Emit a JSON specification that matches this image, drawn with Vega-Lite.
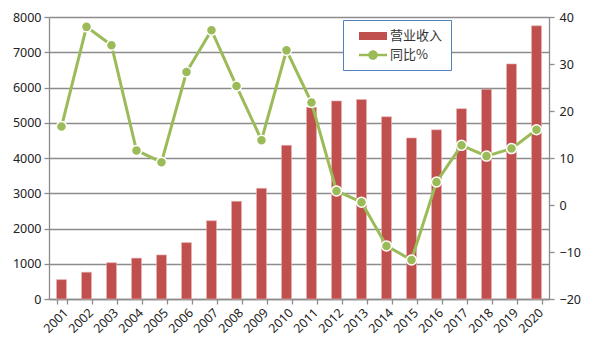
{
  "$schema": "https://vega.github.io/schema/vega-lite/v6.json",
  "width": 500,
  "height": 282,
  "autosize": {"type": "none"},
  "padding": {"left": 49, "top": 17, "right": 51, "bottom": 55},
  "background": "white",
  "config": {
    "view": {"stroke": null},
    "font": "Noto Sans",
    "axis": {"labelFont": "Noto Sans", "labelFontSize": 12.5, "labelColor": "#222", "domainColor": "#8c8c8c", "tickColor": "#8c8c8c", "gridColor": "#8c8c8c", "gridWidth": 1.3, "domainWidth": 1.3, "tickWidth": 1.3, "tickSize": 5}
  },
  "data": {"values": [
    {"year": "2001", "rev": 550, "yoy": 16.7},
    {"year": "2002", "rev": 760, "yoy": 37.9},
    {"year": "2003", "rev": 1030, "yoy": 34.0},
    {"year": "2004", "rev": 1160, "yoy": 11.6},
    {"year": "2005", "rev": 1250, "yoy": 9.1},
    {"year": "2006", "rev": 1600, "yoy": 28.3},
    {"year": "2007", "rev": 2220, "yoy": 37.2},
    {"year": "2008", "rev": 2770, "yoy": 25.3},
    {"year": "2009", "rev": 3140, "yoy": 13.8},
    {"year": "2010", "rev": 4360, "yoy": 32.9},
    {"year": "2011", "rev": 5440, "yoy": 21.8},
    {"year": "2012", "rev": 5620, "yoy": 3.0},
    {"year": "2013", "rev": 5660, "yoy": 0.6},
    {"year": "2014", "rev": 5170, "yoy": -8.7},
    {"year": "2015", "rev": 4570, "yoy": -11.7},
    {"year": "2016", "rev": 4800, "yoy": 4.9},
    {"year": "2017", "rev": 5400, "yoy": 12.7},
    {"year": "2018", "rev": 5950, "yoy": 10.4},
    {"year": "2019", "rev": 6670, "yoy": 12.0},
    {"year": "2020", "rev": 7750, "yoy": 16.0}
  ]},
  "encoding": {
    "x": {"field": "year", "type": "nominal", "scale": {"paddingInner": 0.6, "paddingOuter": 0.3},
      "axis": {"title": null, "labelAngle": -45, "tickBand": "extent", "labelPadding": 2}}
  },
  "layer": [
    {
      "mark": {"type": "bar", "stroke": "#e9b3b2", "strokeWidth": 0.6},
      "encoding": {
        "y": {"field": "rev", "type": "quantitative", "scale": {"domain": [0, 8000], "nice": false},
          "axis": {"title": null, "format": "d", "values": [0,1000,2000,3000,4000,5000,6000,7000,8000], "labelPadding": 3}},
        "color": {"datum": "营业收入", "type": "nominal",
          "scale": {"domain": ["营业收入", "同比%"], "range": ["#C0504D", "#9BBB59"]},
          "legend": {
            "orient": "none", "legendX": 294, "legendY": 3, "title": null,
            "strokeColor": "#4F81BD", "fillColor": "white",
            "padding": 8, "rowPadding": 4, "symbolSize": 256, "labelOffset": 23,
            "labelFont": "Noto Sans CJK SC", "labelFontSize": 13, "labelColor": "#333",
            "symbolType": {"expr": "datum.value === '营业收入' ? 'M0,-0.5H3.5V0.5H0Z' : 'M0,-0.15H3.5V0.15H0Z M2.35,0A0.6,0.6 0 1,1 1.15,0A0.6,0.6 0 1,1 2.35,0Z'"},
            "symbolFillColor": {"expr": "datum.value === '营业收入' ? '#C0504D' : '#9BBB59'"},
            "symbolStrokeColor": "transparent",
            "symbolStrokeWidth": 0,
            "symbolOpacity": 1
          }}
      }
    },
    {
      "mark": {"type": "line", "strokeWidth": 3, "stroke": "#9BBB59",
        "point": {"filled": true, "size": 100, "fill": "#9BBB59", "stroke": "white", "strokeWidth": 1.5}},
      "encoding": {
        "y": {"field": "yoy", "type": "quantitative", "scale": {"domain": [-20, 40], "nice": false},
          "axis": {"title": null, "orient": "right", "grid": false, "values": [-20,-10,0,10,20,30,40], "labelPadding": 5}}
      }
    }
  ],
  "resolve": {"scale": {"y": "independent"}}
}
